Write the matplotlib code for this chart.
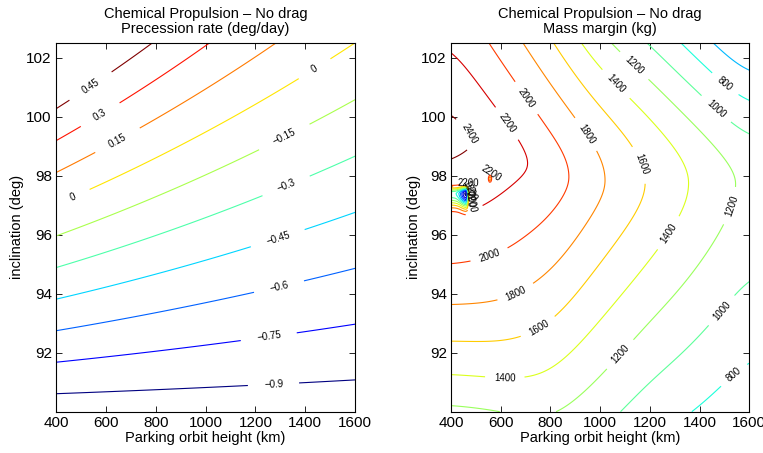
import numpy as np
import matplotlib
matplotlib.use("Agg")
import matplotlib.pyplot as plt
from matplotlib.colors import Normalize

plt.rcParams['font.family'] = ['Liberation Sans', 'DejaVu Sans']

# ---------------------------------------------------------------- axes ranges
height_range = [400, 1600]          # parking orbit height (km)
incl_range = [90, 102.5]            # inclination (deg)
height_ticks = [400, 600, 800, 1000, 1200, 1400, 1600]
incl_ticks = [92, 94, 96, 98, 100, 102]

# ------------------------------------------------------ precession rate panel
precession_levels = [-0.9, -0.75, -0.6, -0.45, -0.3, -0.15, 0.0, 0.15, 0.3, 0.45]
sun_sync_rate = 0.9856              # deg/day, mean motion of the Sun
MU_EARTH = 398600.4418              # km^3/s^2
R_EARTH = 6378.137                  # km
J2 = 1.08263e-3

# --------------------------------------------------------- mass margin panel
margin_levels = [-200, 0, 200, 400, 600, 800, 1000, 1200, 1400, 1600,
                 1800, 2000, 2200, 2400]
node_heights = [400, 600, 800, 1000, 1200, 1400, 1600]          # km
peak_margin = [2480, 2310, 2110, 1820, 1575, 1350, 1130]        # kg
peak_incl = [99.4, 98.9, 98.0, 97.85, 97.75, 97.75, 97.7]       # deg
upper_slope = [92, 112, 128, 175, 190, 200, 220]                # kg/deg
upper_round = [10, 30, 100, 300, 400, 350, 350]                 # kg
lower_slope = [83, 66, 106, 105, 100, 85, 75]                   # kg/deg
lower_curv = [6.3, 6.8, 1.4, 0.0, 0.0, 0.0, 0.0]                # kg/deg^2
lower_round = [10, 10, 60, 82, 100, 100, 120]                   # kg

# local solver breakdowns close to the lowest parking heights
well_height = [462, 557]            # km
well_incl = [97.4, 97.9]            # deg
well_depth = [2550, 650]            # kg

# label anchor points (height, inclination)
precession_label_pos = [(536, 101.07), (570, 100.17), (643, 99.26), (463, 97.34),
                        (1432, 101.7), (1312, 99.38), (1319, 97.74), (1286, 95.98),
                        (1292, 94.34), (1252, 92.64), (1272, 91.02)]
margin_label_pos = [(476, 99.43), (617, 99.72), (691, 100.56), (939, 99.38),
                    (1160, 98.36), (1053, 101.02), (1127, 101.64), (1475, 100.34),
                    (1516, 101.24), (1516, 97.0), (1268, 96.1), (557, 95.24),
                    (657, 94.1), (745, 92.95), (617, 91.25), (1093, 91.85),
                    (1489, 93.43), (1522, 91.4),
                    (478, 97.1), (478, 97.3), (476, 97.5), (474, 97.7),
                    (560, 98.05)]

# ------------------------------------------------------------------ fields
h = np.linspace(height_range[0], height_range[1], 241)
inc = np.linspace(incl_range[0], incl_range[1], 251)
H, INC = np.meshgrid(h, inc)

# nodal precession relative to a sun-synchronous drift
a = R_EARTH + H
n = np.sqrt(MU_EARTH / a**3)
raan_rate = -1.5 * J2 * (R_EARTH / a)**2 * n * np.cos(np.radians(INC))
precession = np.degrees(raan_rate) * 86400.0 - sun_sync_rate


def profile(values, sigma_km=70.0):
    """Height profile of a model parameter, smoothed between the nodes."""
    p = np.interp(h, node_heights, values)
    step = h[1] - h[0]
    half = int(4 * sigma_km / step)
    k = np.exp(-0.5 * (np.arange(-half, half + 1) * step / sigma_km)**2)
    k /= k.sum()
    padded = np.pad(p, half, mode='edge')
    return np.convolve(padded, k, mode='valid')[None, :]


# mass margin: ridge along the best inclination, falling off on both sides
A = profile(peak_margin)
ip = profile(peak_incl)
U = profile(upper_slope)
cu = profile(upper_round)
L = profile(lower_slope)
q = profile(lower_curv)
cl = profile(lower_round)
d = INC - ip
pen_up = np.sqrt((U * d)**2 + cu**2) - cu
pen_lo = np.sqrt((L * d)**2 + cl**2) - cl + q * d**2
margin = A - np.where(d > 0, pen_up, pen_lo)

# main well: sharp upper edge, wide lower skirt, open towards the left border
dh = H - well_height[0]
fh = np.where(dh > 0, np.exp(-(dh / 9.0)**2),
              0.55 + 0.45 * np.exp(-(dh / 25.0)**2))
di = INC - well_incl[0]
fi = np.where(di > 0, np.exp(-(di / 0.22)**2), np.exp(-(di / 0.45)**2))
margin = margin - well_depth[0] * fh * fi
# small isolated pocket
margin = margin - well_depth[1] * np.exp(-((H - well_height[1]) / 7.0)**2
                                         - ((INC - well_incl[1]) / 0.13)**2)

# ------------------------------------------------------------------ drawing
fig = plt.figure(figsize=(7.63, 4.53), dpi=100)
ax1 = fig.add_axes([0.0734, 0.0912, 0.392, 0.814])
ax2 = fig.add_axes([0.591, 0.0912, 0.391, 0.814])


def fmt_label(v):
    s = f"{v:g}"
    return s.replace("-", "\u2212")


def style(ax, title, ypad):
    ax.set_xlim(height_range)
    ax.set_ylim(incl_range)
    ax.set_xticks(height_ticks)
    ax.set_yticks(incl_ticks)
    ax.tick_params(direction='in', top=True, right=True, length=4, width=0.6,
                   labelsize=11, pad=3)
    for sp in ax.spines.values():
        sp.set_linewidth(0.8)
    ax.set_xlabel("Parking orbit height (km)", fontsize=10.5, labelpad=1)
    ax.set_ylabel("inclination (deg)", fontsize=10.5, labelpad=ypad)
    ax.set_title(title, fontsize=10.5, pad=7, linespacing=1.15)


cs1 = ax1.contour(H, INC, precession, levels=precession_levels, cmap='jet',
                  norm=Normalize(min(precession_levels), max(precession_levels)),
                  linewidths=0.8)
ax1.clabel(cs1, inline=True, fmt=fmt_label, fontsize=7, colors='k',
           manual=precession_label_pos, inline_spacing=16)
style(ax1, "Chemical Propulsion \u2013 No drag\nPrecession rate (deg/day)", 2)

cs2 = ax2.contour(H, INC, margin, levels=margin_levels, cmap='jet',
                  norm=Normalize(min(margin_levels), max(margin_levels)),
                  linewidths=0.8)
ax2.clabel(cs2, inline=True, fmt=fmt_label, fontsize=7, colors='k',
           manual=margin_label_pos, inline_spacing=9)
style(ax2, "Chemical Propulsion \u2013 No drag\nMass margin (kg)", 0)

fig.savefig("out.png", dpi=100)
